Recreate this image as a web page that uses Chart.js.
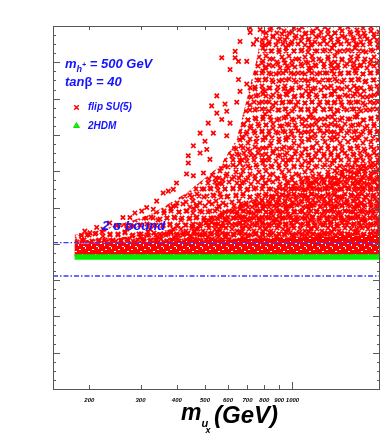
<!DOCTYPE html>
<html>
<head>
<meta charset="utf-8">
<script src="https://cdn.jsdelivr.net/npm/chart.js@4.4.0/dist/chart.umd.min.js"></script>
<style>
body { margin: 0; background: #fff; }
#wrap { position: relative; width: 392px; height: 436px; }
.t { position: absolute; font-family: "Liberation Sans", Arial, sans-serif; font-weight: bold; font-style: italic; line-height: 1; white-space: nowrap; color: #1414ff; }
.up { font-style: normal; }
svg { position: absolute; }
</style>
</head>
<body>
<div id="wrap">
  <canvas id="grafico" width="392" height="436"></canvas>
  <div class="t" style="left:65px;top:57px;font-size:13px">m<span style="font-size:9px;position:relative;top:4px">h<span style="font-size:7px;position:relative;top:-5px">+</span></span> = 500 GeV</div>
  <div class="t" style="left:65px;top:75px;font-size:13px">tan<span class="up">β</span> = 40</div>
  <svg style="left:73px;top:104px" width="7" height="7"><path d="M1.2,1.2L5.8,5.8M1.2,5.8L5.8,1.2" stroke="#ff0000" stroke-width="1.5"/></svg>
  <div class="t" style="left:88px;top:101.5px;font-size:10px">flip SU(5)</div>
  <svg style="left:73px;top:122px" width="7" height="6"><polygon points="3.5,0.5 6.5,5.5 0.5,5.5" fill="#00ff00" stroke="#00cc00" stroke-width="0.8"/></svg>
  <div class="t" style="left:88px;top:120.5px;font-size:10px">2HDM</div>
  <div class="t" style="left:102px;top:219px;font-size:13px">2 <span class="up">σ</span> bound</div>
  <div class="t" style="left:181px;top:400.5px;font-size:23px;color:#000">m</div>
  <div class="t" style="left:201.5px;top:418px;font-size:11px;color:#000">u</div>
  <div class="t" style="left:205.5px;top:425.5px;font-size:9px;color:#000">x</div>
  <div class="t" style="left:214px;top:403px;font-size:24px;color:#000">(GeV)</div>
</div>
<script>
// x: m_ux in GeV (log axis), y: arbitrary units, no labels on the original
const xTicks = [200, 300, 400, 500, 600, 700, 800, 900, 1000];

// flip SU(5): almost solid strip just above the 2HDM band
const coreX = [178, 500, 2000];
const coreY = [16.0, 16.4, 17.0];

// flip SU(5): dense part of the scan, upper edge
const denseX = [178, 255, 332, 432, 563, 734, 956, 1246, 1624, 2000];
const denseY = [16.3, 16.7, 17.2, 18.0, 19.4, 20.9, 22.4, 23.5, 24.6, 25.3];

// flip SU(5): outer edge of the well filled cloud
const cloudX = [178, 223, 291, 332, 379, 432, 494, 563, 643, 696, 753, 795, 2000];
const cloudY = [17.0, 17.6, 18.7, 19.4, 20.5, 21.6, 23.1, 24.6, 27.5, 31.9, 36.3, 40.5, 40.5];
const cloudFloor = 14.6;

// flip SU(5): single points along the sparse upper-left edge
const flipX = [715, 715, 774, 660, 635, 571, 635, 652, 696, 610, 734, 753,
               652, 696, 660, 715, 549, 527, 586, 594, 643, 513, 549, 571,
               610, 481, 534, 500, 594, 456, 438, 438, 481, 507, 520, 399,
               432, 456, 494, 359, 374, 389, 332, 315, 341, 303, 287, 276,
               261, 248, 235, 223, 212, 201, 188, 193];
const flipY = [39.8, 39.3, 39.6, 38.3, 37.2, 36.5, 36.5, 36.1, 36.1, 35.2, 38.0, 38.5,
               34.1, 33.6, 32.8, 33.2, 32.3, 31.2, 31.4, 30.6, 31.6, 29.3, 30.4, 29.7,
               29.3, 28.2, 28.2, 27.3, 27.9, 26.8, 25.7, 24.9, 26.0, 26.4, 25.3, 22.7,
               23.7, 23.5, 23.8, 21.6, 21.8, 22.0, 19.8, 20.0, 20.7, 19.6, 19.4, 18.9,
               18.9, 18.0, 18.3, 17.6, 17.8, 17.2, 16.9, 17.4];

// 2HDM band
const hdmX = [178, 2000];
const hdmY = [14.55, 14.55];

// 2 sigma bounds
const boundX = [150, 2000];
const boundY = [16.12, 12.45];

function pts(xs, ys) {
    return xs.map((x, i) => ({ x: x, y: ys[i] }));
}

// tile of red crosses, repeated as a fill texture
function crossTexture(size, centers) {
    const c = document.createElement('canvas');
    c.width = size; c.height = size;
    const g = c.getContext('2d');
    g.strokeStyle = '#ff0000';
    g.lineWidth = 1.7;
    g.beginPath();
    centers.forEach(p => {
        for (let dx = -size; dx <= size; dx += size) {
            for (let dy = -size; dy <= size; dy += size) {
                const cx = p[0] + dx, cy = p[1] + dy;
                g.moveTo(cx - 2.2, cy - 2.2); g.lineTo(cx + 2.2, cy + 2.2);
                g.moveTo(cx - 2.2, cy + 2.2); g.lineTo(cx + 2.2, cy - 2.2);
            }
        }
    });
    g.stroke();
    return g.createPattern(c, 'repeat');
}

// red with little white gaps
function solidTexture() {
    const c = document.createElement('canvas');
    c.width = 13; c.height = 13;
    const g = c.getContext('2d');
    g.fillStyle = '#ff0000';
    g.fillRect(0, 0, 13, 13);
    g.fillStyle = '#ffffff';
    [[1,2,2,1],[7,0,1,2],[10,4,2,1],[4,7,1,1],[9,9,2,1],[0,10,1,2],[5,12,2,1]]
        .forEach(r => g.fillRect(r[0], r[1], r[2], r[3]));
    return g.createPattern(c, 'repeat');
}

const texA = crossTexture(23, [[3,4],[10,2],[18,5],[6,11],[13,10],[20,13],[2,18],[9,17],[16,19],[12,22]]);
const texB = crossTexture(29, [[2,3],[9,1],[16,4],[23,2],[5,9],[12,8],[19,10],[26,8],
                               [1,15],[8,15],[15,16],[22,15],[4,22],[11,22],[18,23],[25,22]]);
const texC = crossTexture(17, [[2,2],[8,1],[14,3],[5,7],[11,8],[16,10],[1,12],[7,13],[13,14],[4,16]]);
const texD = solidTexture();

const frameTicks = {
    id: 'frameTicks',
    afterDraw(chart) {
        const ctx = chart.ctx;
        const a = chart.chartArea;
        const x = chart.scales.x, y = chart.scales.y;
        ctx.save();
        ctx.strokeStyle = '#5a5a5a';
        ctx.lineWidth = 1;
        ctx.beginPath();
        xTicks.forEach(v => {
            const px = Math.round(x.getPixelForValue(v)) + 0.5;
            const len = v === 1000 ? 7 : 4;
            ctx.moveTo(px, a.bottom); ctx.lineTo(px, a.bottom - len);
            ctx.moveTo(px, a.top); ctx.lineTo(px, a.top + len);
        });
        for (let v = 1; v < 40; v++) {
            const py = Math.round(y.getPixelForValue(v)) + 0.5;
            const len = v % 4 === 0 ? 7 : 3;
            ctx.moveTo(a.left, py); ctx.lineTo(a.left + len, py);
            ctx.moveTo(a.right, py); ctx.lineTo(a.right - len, py);
        }
        ctx.stroke();
        ctx.strokeStyle = '#555';
        ctx.strokeRect(Math.round(a.left) + 0.5, Math.round(a.top) + 0.5,
                       Math.round(a.right - a.left) - 1, Math.round(a.bottom - a.top));
        ctx.restore();
    }
};

function zone(label, xs, ys, tex, order) {
    return {
        label: label,
        data: pts(xs, ys),
        fill: { value: cloudFloor },
        backgroundColor: tex,
        borderColor: 'transparent',
        borderWidth: 0,
        pointRadius: 0,
        order: order
    };
}

new Chart(document.getElementById('grafico'), {
    type: 'line',
    data: {
        datasets: [
            {
                label: '2 sigma upper',
                data: pts(boundX, [boundY[0], boundY[0]]),
                borderColor: '#3a3aff',
                borderWidth: 1.3,
                borderDash: [5, 2, 1.5, 2],
                pointRadius: 0,
                order: 1
            },
            {
                label: '2 sigma lower',
                data: pts(boundX, [boundY[1], boundY[1]]),
                borderColor: '#3a3aff',
                borderWidth: 1.3,
                borderDash: [5, 2, 1.5, 2],
                pointRadius: 0,
                order: 2
            },
            {
                label: '2HDM',
                data: pts(hdmX, hdmY),
                borderColor: '#00f000',
                borderWidth: 5.5,
                borderCapStyle: 'butt',
                pointRadius: 0,
                order: 3
            },
            {
                label: 'flip SU(5)',
                data: pts(flipX, flipY),
                showLine: false,
                pointStyle: 'crossRot',
                pointRadius: 3.1,
                pointBorderWidth: 1.7,
                pointBorderColor: '#ff0000',
                borderColor: '#ff0000',
                order: 4
            },
            zone('flip SU(5) core', coreX, coreY, texD, 5),
            zone('flip SU(5) dense', denseX, denseY, texC, 6),
            zone('flip SU(5) cloud a', cloudX, cloudY, texA, 7),
            zone('flip SU(5) cloud b', cloudX, cloudY, texB, 8)
        ]
    },
    options: {
        responsive: false,
        animation: false,
        layout: { padding: { top: 26, right: 12, left: 0, bottom: 0 } },
        plugins: { legend: { display: false }, tooltip: { enabled: false } },
        scales: {
            x: {
                type: 'logarithmic',
                min: 150,
                max: 2000,
                grid: { display: false, drawTicks: false },
                border: { display: false },
                afterBuildTicks: s => { s.ticks = xTicks.map(v => ({ value: v })); },
                afterFit: s => { s.height = 47; },
                ticks: {
                    autoSkip: false,
                    maxRotation: 0,
                    padding: 8,
                    color: '#000',
                    font: { family: 'Liberation Sans', size: 6, style: 'italic', weight: 'bold' },
                    callback: v => String(v)
                }
            },
            y: {
                min: 0,
                max: 40,
                grid: { display: false, drawTicks: false },
                border: { display: false },
                ticks: { display: false },
                afterFit: s => { s.width = 53; }
            }
        }
    },
    plugins: [frameTicks]
});
</script>
</body>
</html>
